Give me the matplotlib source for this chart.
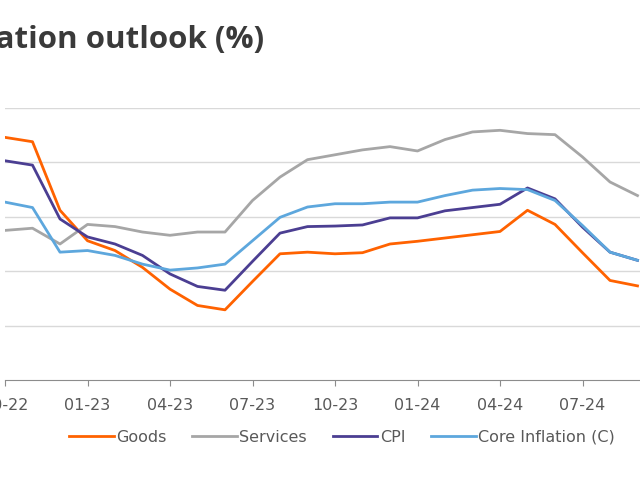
import numpy as np
import matplotlib
matplotlib.use("Agg")
import matplotlib.pyplot as plt

# monthly data, 10-22 .. 09-24
months = ["10-22", "11-22", "12-22", "01-23", "02-23", "03-23", "04-23", "05-23",
          "06-23", "07-23", "08-23", "09-23", "10-23", "11-23", "12-23", "01-24",
          "02-24", "03-24", "04-24", "05-24", "06-24", "07-24", "08-24", "09-24"]
goods = [4.46, 4.38, 3.12, 2.56, 2.38, 2.07, 1.67, 1.37, 1.29, 1.81, 2.32, 2.35,
         2.32, 2.34, 2.50, 2.55, 2.61, 2.67, 2.73, 3.12, 2.86, 2.34, 1.83, 1.73]
services = [2.75, 2.79, 2.50, 2.86, 2.82, 2.72, 2.66, 2.72, 2.72, 3.30, 3.73, 4.05,
            4.14, 4.23, 4.29, 4.21, 4.42, 4.56, 4.59, 4.53, 4.51, 4.10, 3.64, 3.39]
cpi = [4.03, 3.95, 2.96, 2.63, 2.50, 2.29, 1.95, 1.72, 1.65, 2.18, 2.70, 2.82,
       2.83, 2.85, 2.98, 2.98, 3.11, 3.17, 3.23, 3.53, 3.33, 2.81, 2.35, 2.20]
core = [3.27, 3.17, 2.35, 2.38, 2.29, 2.13, 2.02, 2.06, 2.13, 2.56, 2.99, 3.18,
        3.24, 3.24, 3.27, 3.27, 3.39, 3.49, 3.52, 3.50, 3.30, 2.84, 2.35, 2.20]

tick_pos = [0, 3, 6, 9, 12, 15, 18, 21, 24]
tick_labels = ["10-22", "01-23", "04-23", "07-23", "10-23", "01-24", "04-24", "07-24", "10-24"]

W, H = 640, 480
fig = plt.figure(figsize=(6.4, 4.8), dpi=100)

# axes runs past the right edge of the picture (chart is cropped)
x0, px_month = 5, 27.5
n_months = 27
ax = fig.add_axes([x0 / W, 1 - 380 / H, n_months * px_month / W, 272 / H])

x = np.arange(len(months))
ax.plot(x, goods, color="#FF6200", lw=2, label="Goods")
ax.plot(x, services, color="#A6A6A6", lw=2, label="Services")
ax.plot(x, cpi, color="#4B3E92", lw=2, label="CPI")
ax.plot(x, core, color="#5DA7DD", lw=2, label="Core Inflation (C)")

ax.set_xlim(0, n_months)
ax.set_ylim(0, 5)
ax.set_yticks([1, 2, 3, 4, 5])
ax.tick_params(axis="y", length=0, labelleft=False)
ax.grid(axis="y", color="#D9D9D9", lw=1)
ax.set_axisbelow(True)

ax.set_xticks(tick_pos)
ax.set_xticklabels(tick_labels)
ax.tick_params(axis="x", direction="out", length=4, color="#8C8C8C", labelcolor="#595959",
               labelsize=11.5, pad=9)

for s in ["top", "right", "left"]:
    ax.spines[s].set_visible(False)
ax.spines["bottom"].set_color("#8C8C8C")

fig.text(264 / W, 1 - 48 / H, "Inflation outlook (%)", ha="right", va="baseline",
         fontsize=22.5, fontweight="bold", family="Open Sans", color="#3A3A3A")

leg = fig.legend(loc="center", bbox_to_anchor=(342 / W, 1 - 437 / H), ncol=4,
                 frameon=False, fontsize=11.5, handlelength=2.8, handletextpad=0.15,
                 columnspacing=1.6)
for t in leg.get_texts():
    t.set_color("#595959")

fig.savefig("out.png", dpi=100)
